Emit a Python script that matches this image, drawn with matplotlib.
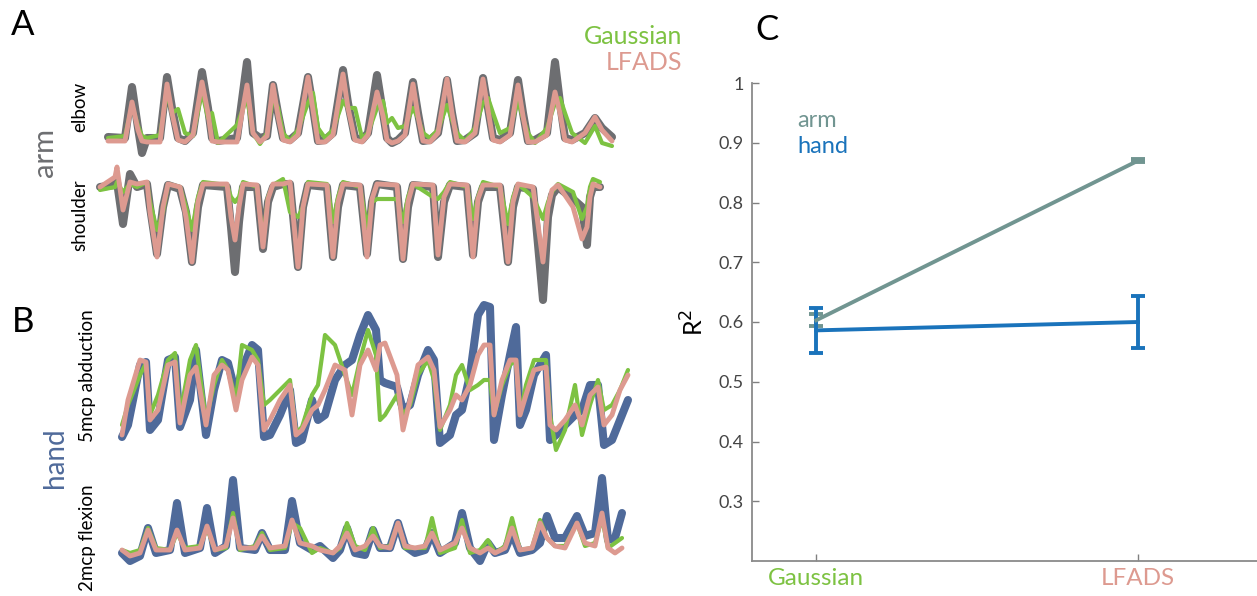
import matplotlib.pyplot as plt

plt.rcParams['font.family'] = ['Lato', 'DejaVu Sans']

# ---- panel A: arm kinematics (true / Gaussian / LFADS), arbitrary units ----
t_elbow = [108, 125, 132, 138, 142, 147, 160, 167, 172, 178,
           185, 193, 202, 208, 212, 218, 237, 247, 253, 260,
           267, 273, 278, 283, 290, 298, 308, 313, 318, 325,
           333, 343, 348, 355, 362, 368, 377, 383, 387, 392,
           398, 405, 413, 418, 423, 430, 438, 447, 452, 457,
           465, 475, 483, 488, 493, 500, 510, 518, 523, 528,
           535, 547, 555, 560, 565, 572, 585, 595, 602, 612]
elbow_true = [1, 0, 51, 10, -15, 0, 0, 61, 30, 0,
              -3, 5, 66, 30, 0, -3, 0, 76, 5, 0,
              2, 53, 25, 0, -2, 5, 61, 30, -3, -2,
              5, 68, 35, 0, -2, 5, 63, 25, 0, -5,
              -2, 5, 56, 25, -3, -2, 5, 58, 25, -3,
              -2, 5, 60, 30, 0, -2, 5, 58, 25, -3,
              -2, 5, 76, 35, 0, -2, 5, 20, 10, 1]
elbow_lfads = [-3, -3, 36, 8, -3, -4, -4, 54, 25, -2,
               -4, 3, 56, 25, -3, -4, -4, 53, 5, -4,
               2, 53, 22, -2, -4, 3, 61, 28, -4, -4,
               3, 64, 30, -2, -4, 3, 46, 22, -2, -5,
               -3, 3, 54, 22, -3, -4, 5, 59, 25, -3,
               -4, 5, 59, 28, -2, -4, 3, 53, 22, -4,
               -4, 3, 46, 25, -2, -4, 5, 21, 8, -3]
elbow_gauss = [0, 2, 33, 12, 2, 0, 3, 46, 25, 29,
               5, 2, 46, 20, 25, -5, 13, 40, 5, -6,
               5, 40, 30, 5, -3, 8, 35, 45, 10, 0,
               8, 37, 30, 30, 0, 5, 30, 37, 15, 20,
               10, 12, 30, 20, 5, 0, 8, 33, 18, 5,
               -3, 10, 35, 40, 25, 5, 10, 37, 20, 5,
               -5, 10, 35, 40, 25, 5, -5, 12, -5, -8]

t_shoulder = [100, 115, 117, 123, 130, 137, 147, 150, 157, 163,
              168, 180, 186, 192, 198, 203, 227, 231, 235, 239,
              243, 257, 263, 268, 273, 283, 290, 298, 303, 308,
              327, 333, 338, 343, 360, 367, 372, 377, 397, 403,
              408, 413, 433, 438, 444, 450, 467, 473, 478, 483,
              500, 508, 513, 518, 533, 543, 548, 552, 558, 573,
              582, 587, 590, 593, 600]
shoulder_true = [0, 2, 5, -37, 13, 0, 3, -20, -67, -20,
                 2, -2, -25, -75, -20, 2, 0, -40, -85, -35,
                 0, 0, -62, -15, 0, 3, 3, -80, -20, 2,
                 0, -70, -20, 2, 0, -67, -15, 3, 0, -72,
                 -20, 2, 0, -70, -15, 2, 0, -68, -15, 0,
                 0, -75, -20, 0, -2, -113, -30, -8, 0, -12,
                 -20, -58, -10, 0, 0]
shoulder_lfads = [0, 10, 20, -23, 5, 3, 5, -25, -70, -20,
                  3, 0, -30, -75, -15, 3, 3, -30, -53, -20,
                  3, 2, -60, -12, 3, 3, 5, -80, -20, 3,
                  2, -70, -15, 3, 2, -70, -12, 3, 2, -72,
                  -15, 3, 2, -68, -10, 3, 2, -70, -12, 2,
                  2, -75, -15, 3, 0, -75, -20, -3, 2, -20,
                  -52, -40, -10, 3, 0]
shoulder_gauss = [-3, 0, 5, -5, 3, 0, 5, -15, -43, -25,
                  3, 0, -20, -43, -10, 5, 2, -10, -15, -10,
                  5, 0, -55, -10, 2, 8, -25, -30, -20, 5,
                  3, -35, -10, 5, 0, -40, -15, -12, -12, -35,
                  -10, 3, -10, -12, -5, 5, 0, -32, -10, 5,
                  0, -37, -10, 3, -10, -32, -15, -5, 3, -5,
                  -32, -20, 0, 8, 5]

# ---- panel B: hand kinematics ----
t_5mcp = [122, 128, 140, 146, 150, 158, 168, 175, 180, 190,
          196, 206, 214, 222, 228, 236, 242, 252, 258, 264,
          270, 280, 290, 296, 302, 312, 318, 325, 335, 345,
          352, 360, 368, 376, 380, 385, 397, 403, 410, 418,
          428, 434, 440, 450, 456, 462, 470, 478, 484, 490,
          494, 502, 510, 516, 520, 526, 534, 546, 550, 556,
          565, 575, 582, 590, 598, 604, 612, 620, 628]
mcp5_true = [18, 30, 90, 93, 25, 35, 95, 98, 28, 55,
             105, 20, 65, 95, 92, 60, 85, 110, 105, 18,
             20, 40, 65, 12, 15, 55, 35, 40, 75, 90,
             95, 120, 140, 125, 75, 72, 68, 45, 50, 80,
             105, 95, 12, 20, 40, 45, 80, 140, 150, 148,
             15, 60, 100, 128, 30, 45, 80, 100, 15, 20,
             30, 40, 45, 70, 70, 10, 15, 35, 55]
mcp5_lfads = [20, 55, 95, 93, 35, 45, 90, 93, 32, 80,
              88, 30, 80, 90, 85, 45, 75, 98, 90, 25,
              35, 55, 70, 20, 25, 45, 50, 65, 90, 85,
              40, 90, 105, 85, 110, 112, 80, 25, 55, 90,
              98, 85, 28, 45, 60, 55, 70, 100, 110, 110,
              40, 75, 95, 95, 40, 60, 85, 88, 30, 25,
              35, 50, 30, 60, 68, 30, 40, 65, 80]
mcp5_gauss = [30, 50, 80, 92, 40, 60, 95, 102, 40, 95,
              110, 35, 70, 95, 85, 55, 110, 105, 95, 50,
              55, 65, 75, 22, 28, 60, 70, 120, 110, 80,
              60, 95, 125, 100, 35, 40, 60, 40, 50, 80,
              95, 75, 25, 50, 80, 90, 65, 70, 75, 75,
              40, 70, 90, 95, 40, 70, 95, 95, 40, 5,
              25, 70, 20, 50, 75, 45, 50, 65, 85]

t_2mcp = [122, 130, 140, 148, 156, 170, 177, 185, 200, 207,
          215, 226, 233, 240, 255, 262, 270, 285, 292, 300,
          312, 320, 333, 340, 347, 355, 365, 373, 380, 390,
          398, 405, 415, 425, 432, 440, 455, 462, 470, 480,
          488, 495, 505, 512, 520, 532, 540, 547, 555, 565,
          577, 585, 595, 602, 608, 615, 622]
mcp2_true = [5, -3, 2, 30, 5, 8, 55, 5, 10, 50,
             5, 12, 78, 10, 8, 25, 8, 8, 57, 15,
             8, 12, 0, 8, 30, 5, 3, 28, 10, 10,
             35, 12, 5, 8, 25, 5, 15, 45, 10, -3,
             15, 5, 8, 25, 5, 8, 15, 42, 20, 20,
             42, 22, 25, 80, 18, 20, 45]
mcp2_lfads = [8, 2, 5, 28, 8, 8, 28, 8, 10, 32,
              8, 12, 40, 10, 10, 22, 10, 12, 38, 15,
              12, 8, 5, 12, 25, 8, 12, 22, 12, 10,
              35, 12, 10, 12, 25, 8, 15, 30, 10, 5,
              10, 5, 10, 30, 8, 10, 35, 20, 12, 10,
              35, 15, 12, 45, 10, 5, 10]
mcp2_gauss = [8, 5, 8, 30, 10, 8, 25, 10, 12, 30,
              8, 10, 45, 8, 12, 25, 8, 10, 35, 30,
              5, 10, 5, 10, 35, 12, 8, 30, 10, 12,
              35, 10, 10, 10, 40, 5, 10, 38, 5, 8,
              18, 5, 12, 40, 8, 10, 38, 20, 12, 12,
              35, 12, 15, 40, 10, 15, 20]

# ---- panel C: decoding R^2 ----
methods = ['Gaussian', 'LFADS']
arm_r2 = [0.603, 0.870]
arm_err = [0.010, 0.003]
hand_r2 = [0.586, 0.600]
hand_err = [0.038, 0.043]

GRAY = '#6d6e71'
BLUE = '#4f6a9a'
GREEN = '#7dc242'
PINK = '#dd9a90'
ARM_C = '#719591'
HAND_C = '#1a73bb'

W, H = 1257, 596
fig = plt.figure(figsize=(W / 100, H / 100), dpi=100)


def px_axes(x0, x1, y0, y1):
    # axes rectangle given in pixel coordinates of the reference
    ax = fig.add_axes([x0 / W, 1 - y1 / H, (x1 - x0) / W, (y1 - y0) / H])
    ax.axis('off')
    return ax


def traces(ax, t, true, gauss, lfads, true_color, ylim):
    ax.plot(t, true, color=true_color, lw=5.8, solid_joinstyle='round',
            solid_capstyle='round', clip_on=False)
    ax.plot(t, gauss, color=GREEN, lw=3.0, solid_joinstyle='round',
            solid_capstyle='round', clip_on=False)
    ax.plot(t, lfads, color=PINK, lw=3.5, solid_joinstyle='round',
            solid_capstyle='round', clip_on=False)
    ax.set_xlim(t[0], t[-1])
    ax.set_ylim(*ylim)


traces(px_axes(108, 612, 58, 158), t_elbow, elbow_true, elbow_gauss, elbow_lfads, GRAY, (-20, 80))
traces(px_axes(100, 600, 162, 307), t_shoulder, shoulder_true, shoulder_gauss, shoulder_lfads, GRAY, (-120, 25))
traces(px_axes(122, 628, 300, 455), t_5mcp, mcp5_true, mcp5_gauss, mcp5_lfads, BLUE, (0, 155))
traces(px_axes(122, 622, 473, 563), t_2mcp, mcp2_true, mcp2_gauss, mcp2_lfads, BLUE, (-5, 85))


def ftext(x, y, s, **kw):
    fig.text(x / W, 1 - y / H, s, **kw)


ftext(23, 25, 'A', fontsize=25, ha='center', va='center')
ftext(23, 322, 'B', fontsize=25, ha='center', va='center')
ftext(767, 30, 'C', fontsize=25, ha='center', va='center')

ftext(682, 37, 'Gaussian', color=GREEN, fontsize=18, ha='right', va='center')
ftext(682, 63, 'LFADS', color=PINK, fontsize=18, ha='right', va='center')

ftext(45, 152, 'arm', color=GRAY, fontsize=21, rotation=90, ha='center', va='center')
ftext(55, 458, 'hand', color=BLUE, fontsize=20, rotation=90, ha='center', va='center')
ftext(80, 107, 'elbow', fontsize=13.5, rotation=90, ha='center', va='center')
ftext(80, 215, 'shoulder', fontsize=13.5, rotation=90, ha='center', va='center')
ftext(88, 376, '5mcp abduction', fontsize=13.5, rotation=90, ha='center', va='center')
ftext(88, 538, '2mcp flexion', fontsize=13.5, rotation=90, ha='center', va='center')

# panel C
axc = fig.add_axes([752 / W, 1 - 561 / H, (W - 752) / W, (561 - 83) / H])
xpos = [1, 2]
axc.errorbar(xpos, arm_r2, yerr=arm_err, color=ARM_C, lw=2.8,
             capsize=5, capthick=2.8, clip_on=False)
axc.errorbar(xpos, hand_r2, yerr=hand_err, color=HAND_C, lw=2.8,
             capsize=5, capthick=2.8, clip_on=False)
axc.set_xlim(0.8, 2.37)
axc.set_ylim(0.2, 1.0)
axc.set_yticks([0.3, 0.4, 0.5, 0.6, 0.7, 0.8, 0.9, 1.0])
axc.set_yticklabels(['0.3', '0.4', '0.5', '0.6', '0.7', '0.8', '0.9', '1'])
axc.set_xticks(xpos)
axc.set_xticklabels(methods, fontsize=17.5)
for lab, c in zip(axc.get_xticklabels(), [GREEN, PINK]):
    lab.set_color(c)
axc.tick_params(axis='y', direction='in', length=5, width=1, color='#808080',
                labelcolor='#444444', labelsize=13, pad=6)
axc.tick_params(axis='x', direction='in', length=5, width=1, color='#808080', pad=5)
for side in ['top', 'right']:
    axc.spines[side].set_visible(False)
for side in ['left', 'bottom']:
    axc.spines[side].set_color('#8a8a8a')
    axc.spines[side].set_linewidth(1.3)
axc.set_ylabel('R$^2$', fontsize=18, labelpad=8)
axc.text(0.09, 0.922, 'arm', color=ARM_C, fontsize=17, va='center', transform=axc.transAxes)
axc.text(0.09, 0.868, 'hand', color=HAND_C, fontsize=17, va='center', transform=axc.transAxes)

fig.savefig('out.png', dpi=100)
